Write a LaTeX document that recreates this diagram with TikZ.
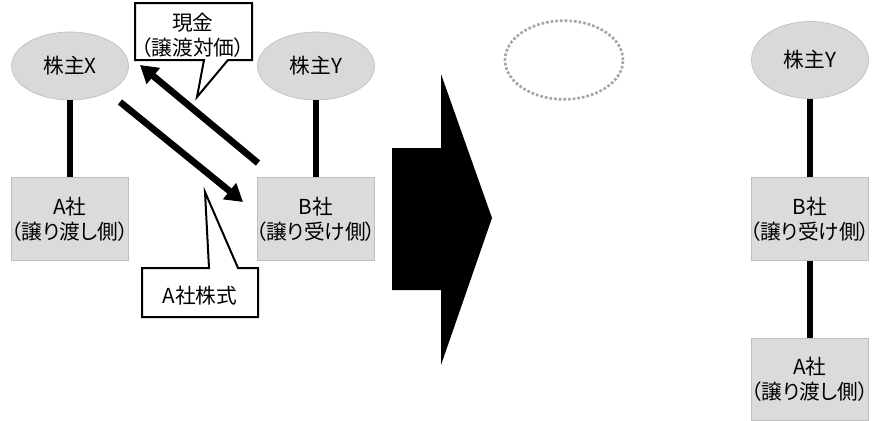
\documentclass[tikz,border=0pt]{standalone}
\usepackage{fontspec}
\setmainfont[RawFeature=+palt]{Noto Sans CJK JP}
\usetikzlibrary{arrows.meta, shapes.geometric, positioning}
\newcommand{\overhang}[1]{\makebox[0pt]{#1}}

\begin{document}
\begin{tikzpicture}[x=0.75pt, y=-0.75pt,
		every node/.style={font=\fontsize{15.5}{19}\selectfont, align=center, inner sep=0pt},
		holder/.style={ellipse, fill=black!15, draw=black!25, line width=0.5pt, minimum width=87.75pt, minimum height=51pt},
		company/.style={rectangle, fill=black!14, draw=black!25, line width=0.5pt, minimum width=87.75pt, minimum height=62.25pt},
		link/.style={line width=4.5pt},
		flow/.style={line width=5pt, -{Triangle[length=13pt, width=15pt]}},
		note/.style={draw=black, fill=white, line width=1.5pt, line join=miter}]
		\useasboundingbox (0,0) rectangle (883,421);
		
		% before the transfer
		\node[holder] (hx) at (70,66) {株主X};
		\node[holder] (hy) at (316,66) {株主Y};
		\node[company] (ca) at (70,219) {A社\\\overhang{（譲り渡し側）}};
		\node[company] (cb) at (316,219) {B社\\\overhang{（譲り受け側）}};
		\draw[link] (hx) -- (ca);
		\draw[link] (hy) -- (cb);
		
		\coordinate (cashfrom) at (258,163);
		\coordinate (cashto) at (140,65);
		\coordinate (sharefrom) at (120,102);
		\coordinate (shareto) at (243,202);
		\draw[flow] (cashfrom) -- (cashto);
		\draw[flow] (sharefrom) -- (shareto);
		
		\draw[note] (135,3) -- (252,3) -- (252,60) -- (228,60) -- (197,97) -- (204,60) -- (135,60) -- cycle;
		\node (cash) at (193,35) {現金\\（譲渡対価）};
		\draw[note] (142,268) -- (209,268) -- (205,192) -- (238,268) -- (258,268) -- (258,317) -- (142,317) -- cycle;
		\node (share) at (200,296) {A社株式};
		
		% big arrow
		\fill (392,148) -- (441,148) -- (441,74) -- (492,218) -- (441,365) -- (441,290) -- (392,290) -- cycle;
		
		% after the transfer
		\node[ellipse, draw=black!35, line width=2pt, dash pattern=on 2pt off 1.5pt, minimum width=88.5pt, minimum height=59pt] (gone) at (564,60) {};
		\node[holder, minimum height=57.75pt] (hy2) at (810,60) {株主Y};
		\node[company] (cb2) at (810,219) {B社\\\overhang{（譲り受け側）}};
		\node[company, minimum height=61.5pt] (ca2) at (810,379) {A社\\\overhang{（譲り渡し側）}};
		\draw[link] (hy2) -- (cb2);
		\draw[link] (cb2) -- (ca2);
\end{tikzpicture}
\end{document}
